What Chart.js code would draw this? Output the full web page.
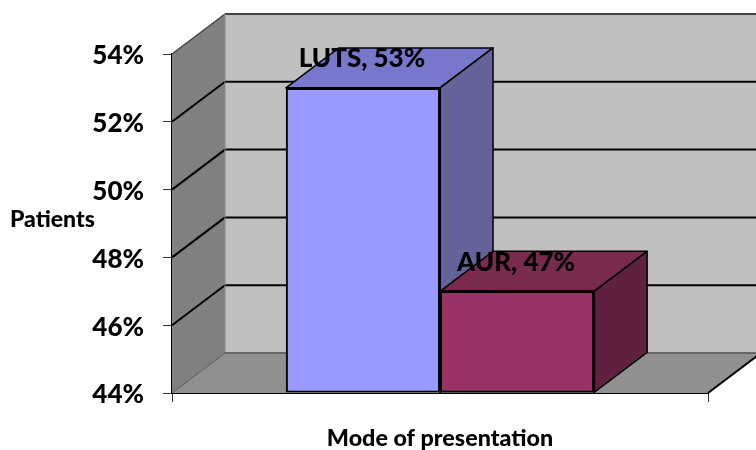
<!DOCTYPE html>
<html>
<head>
<meta charset="utf-8">
<style>
    html, body { margin: 0; padding: 0; background: #ffffff; }
</style>
<script src="https://cdn.jsdelivr.net/npm/chart.js@4"></script>
</head>
<body>
<canvas id="chart-1" width="756" height="450"></canvas>
<script>
var categories = [""];
var seriesNames = ["LUTS", "AUR"];
var seriesValues = [53, 47];
var tickValues = [44, 46, 48, 50, 52, 54];
var xTitle = "Mode of presentation";
var yTitle = "Patients";

// mau cua tung mat cot: truoc, tren, ben
var frontColors = ["#9999ff", "#7777cc", "#636399"];
var backColors = ["#993366", "#7a294f", "#60203f"];

// do sau 3D
var depthX = 53;
var depthY = 40;

function poly(ctx, pts, fill, stroke, lineW) {
    ctx.beginPath();
    ctx.moveTo(pts[0][0], pts[0][1]);
    for (var i = 1; i < pts.length; i++) {
        ctx.lineTo(pts[i][0], pts[i][1]);
    }
    ctx.closePath();
    if (fill) {
        ctx.fillStyle = fill;
        ctx.fill();
    }
    if (stroke) {
        ctx.strokeStyle = stroke;
        ctx.lineWidth = lineW;
        ctx.stroke();
    }
}

function line(ctx, x1, y1, x2, y2, color, lineW) {
    ctx.beginPath();
    ctx.moveTo(x1, y1);
    ctx.lineTo(x2, y2);
    ctx.strokeStyle = color;
    ctx.lineWidth = lineW;
    ctx.stroke();
}

// tuong sau, tuong ben, san
var wallPlugin = {
    id: "walls",
    beforeDatasetsDraw: function (chart) {
        var ctx = chart.ctx;
        var a = chart.chartArea;
        var yScale = chart.scales.y;
        ctx.save();
        poly(ctx, [[a.left + depthX, a.top - depthY], [a.right + depthX, a.top - depthY], [a.right + depthX, a.bottom - depthY], [a.left + depthX, a.bottom - depthY]], "#c0c0c0");
        poly(ctx, [[a.left, a.top], [a.left + depthX, a.top - depthY], [a.left + depthX, a.bottom - depthY], [a.left, a.bottom]], "#808080");
        poly(ctx, [[a.left, a.bottom], [a.left + depthX, a.bottom - depthY], [a.right + depthX, a.bottom - depthY], [a.right, a.bottom]], "#909090");

        tickValues.forEach(function (v, i) {
            var y = yScale.getPixelForValue(v);
            if (i > 0 && i < tickValues.length - 1) {
                line(ctx, a.left, y, a.left + depthX, y - depthY, "#000000", 2);
                line(ctx, a.left + depthX, y - depthY, a.right + depthX, y - depthY, "#000000", 2);
            }
        });
        line(ctx, a.left, a.top, a.left + depthX, a.top - depthY, "#444444", 1.5);
        line(ctx, a.left + depthX, a.top - depthY, a.right + depthX, a.top - depthY, "#444444", 2);
        line(ctx, a.left + depthX, a.top - depthY, a.left + depthX, a.bottom - depthY, "#888888", 1);
        line(ctx, a.left + depthX, a.bottom - depthY, a.right + depthX, a.bottom - depthY, "#666666", 2);
        line(ctx, a.left, a.bottom, a.left + depthX, a.bottom - depthY, "#555555", 1);
        line(ctx, a.right, a.bottom, a.right + depthX, a.bottom - depthY, "#000000", 2);
        ctx.restore();
    },
    afterDatasetsDraw: function (chart) {
        var ctx = chart.ctx;
        ctx.save();
        ctx.lineJoin = "round";
        drawFaces(chart, 0, frontColors);
        // cot thu hai phai che mat ben cua cot dau
        chart.getDatasetMeta(1).data[0].draw(ctx);
        drawFaces(chart, 1, backColors);
        ctx.restore();
    },
    afterDraw: function (chart) {
        var ctx = chart.ctx;
        ctx.save();
        ctx.fillStyle = "#000000";
        ctx.textAlign = "center";
        ctx.textBaseline = "middle";
        ctx.font = "900 26px Lato";
        seriesNames.forEach(function (name, i) {
            var bar = chart.getDatasetMeta(i).data[0];
            ctx.fillText(name + ", " + seriesValues[i] + "%", bar.x - 1, bar.y - 29);
        });
        ctx.font = "900 23px Lato";
        ctx.textAlign = "left";
        ctx.fillText(yTitle, 10, 220);
        ctx.restore();
    }
};

function drawFaces(chart, index, colors) {
    var ctx = chart.ctx;
    var bar = chart.getDatasetMeta(index).data[0];
    var left = bar.x - bar.width / 2;
    var right = bar.x + bar.width / 2;
    poly(ctx, [[left, bar.y], [left + depthX, bar.y - depthY], [right + depthX, bar.y - depthY], [right, bar.y]], colors[1], "#000000", 1.5);
    poly(ctx, [[right, bar.y], [right + depthX, bar.y - depthY], [right + depthX, bar.base - depthY], [right, bar.base]], colors[2], "#000000", 1.5);
    line(ctx, left, bar.y, right, bar.y, "#000000", 2);
    line(ctx, right, bar.y, right, bar.base, "#000000", 2);
}

var ctx = document.getElementById("chart-1").getContext("2d");
var chart_3d = new Chart(ctx, {
    type: "bar",
    data: {
        labels: categories,
        datasets: [
            {
                label: seriesNames[0],
                data: [seriesValues[0]],
                base: tickValues[0],
                backgroundColor: frontColors[0],
                borderColor: "#000000",
                borderWidth: 2,
                borderSkipped: false
            },
            {
                label: seriesNames[1],
                data: [seriesValues[1]],
                base: tickValues[0],
                backgroundColor: backColors[0],
                borderColor: "#000000",
                borderWidth: 2,
                borderSkipped: false
            }
        ]
    },
    options: {
        responsive: false,
        animation: false,
        layout: {
            padding: { top: 54, right: 48, left: 0, bottom: 0 }
        },
        datasets: {
            bar: { categoryPercentage: 0.575, barPercentage: 1 }
        },
        scales: {
            x: {
                afterFit: function (scale) {
                    scale.height = 57;
                },
                border: { color: "#000000", width: 2 },
                grid: { offset: true, drawOnChartArea: false, tickLength: 9, color: "#333333" },
                ticks: { display: false },
                title: {
                    display: true,
                    text: xTitle,
                    color: "#000000",
                    padding: { top: 0, bottom: 0 },
                    font: { family: "Lato", size: 23.3, weight: "900", lineHeight: 1 }
                }
            },
            y: {
                min: tickValues[0],
                max: tickValues[tickValues.length - 1],
                afterFit: function (scale) {
                    scale.width = 172;
                },
                border: { color: "#000000", width: 2 },
                grid: { drawOnChartArea: false, tickLength: 9, color: "#333333" },
                afterBuildTicks: function (scale) {
                    scale.ticks = tickValues.map(function (v) { return { value: v }; });
                },
                ticks: {
                    color: "#000000",
                    padding: 19,
                    labelOffset: 2,
                    font: { family: "Lato", size: 26, weight: "900" },
                    callback: function (value) { return value + "%"; }
                }
            }
        },
        plugins: {
            legend: { display: false },
            title: { display: false },
            tooltip: { enabled: false }
        }
    },
    plugins: [wallPlugin]
});
</script>
</body>
</html>
